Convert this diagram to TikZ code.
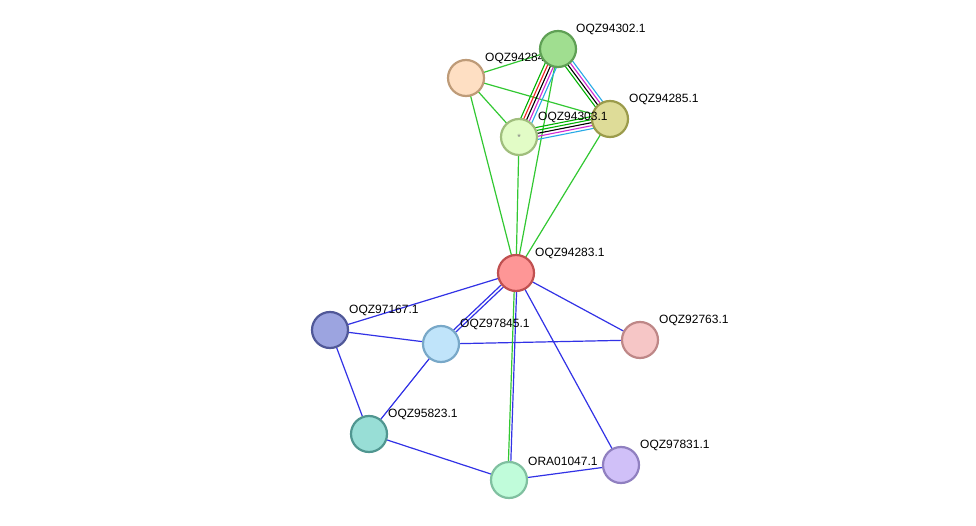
\documentclass[tikz,border=0pt]{standalone}
\usepackage{fontspec}
\setmainfont{Liberation Sans}
\usetikzlibrary{calc}
\begin{document}
\begin{tikzpicture}[x=1pt,y=-1pt,
  prot/.style={circle,minimum size=36pt,inner sep=0pt,line width=2.2pt},
  lab/.style={font=\fontsize{12}{14}\selectfont,anchor=south west,inner sep=1pt},
  ge/.style={draw={rgb,255:red,50;green,200;blue,50},line width=1.2pt},
  be/.style={draw={rgb,255:red,50;green,50;blue,230},line width=1.2pt}]
\useasboundingbox[fill=white] (0,0) rectangle (976,526);
\coordinate (A) at (466,78);
\coordinate (B) at (558,49);
\coordinate (C) at (610,119);
\coordinate (D) at (519,137);
\coordinate (E) at (516,273);
\coordinate (F) at (330,330);
\coordinate (G) at (441,344);
\coordinate (H) at (640,340);
\coordinate (I) at (369,434);
\coordinate (J) at (509,480);
\coordinate (K) at (621,465);
% green single edges
\foreach \a/\b in {A/B,A/D,A/C,A/E,B/E,D/E,C/E}{\draw[ge] (\a)--(\b);}
% multi edges
\def\multi#1#2#3{\foreach \o/\c in {#3}{\draw[line width=1.1pt,draw=\c] ($(#1)!\o pt!90:(#2)$)--($(#2)!\o pt!-90:(#1)$);}}
\colorlet{sg}{green!70!black}
\definecolor{sr}{RGB}{240,30,30}
\definecolor{sm}{RGB}{210,40,210}
\definecolor{sb}{RGB}{40,170,230}
\multi{B}{D}{-6/sg,-3/sr,0/black,3/sm,6/sb}
\multi{B}{C}{-4.5/sg,-1.5/black,1.5/sm,4.5/sb}
\multi{D}{C}{-6/sb,-3/sm,0/black,3/sg,6/sg}
% blue edges
\foreach \a/\b in {E/F,E/H,E/K,F/G,G/H,F/I,G/I,I/J,J/K}{\draw[be] (\a)--(\b);}
\draw[be] ($(E)!1.5pt!90:(G)$)--($(G)!1.5pt!-90:(E)$);
\draw[be] ($(E)!-1.5pt!90:(G)$)--($(G)!-1.5pt!-90:(E)$);
\draw[be] ($(E)!1.2pt!90:(J)$)--($(J)!1.2pt!-90:(E)$);
\draw[ge] ($(E)!-1.2pt!90:(J)$)--($(J)!-1.2pt!-90:(E)$);
% nodes
\node[prot,fill={rgb,255:red,254;green,223;blue,195},draw={rgb,255:red,190;green,155;blue,120}] (nA) at (A) {};
\node[lab] at (484,65) {OQZ94284.1};
\node[prot,fill={rgb,255:red,222;green,220;blue,152},draw={rgb,255:red,155;green,155;blue,75}] (nC) at (C) {};
\node[lab] at (628,106) {OQZ94285.1};
\node[prot,fill={rgb,255:red,226;green,252;blue,198},draw={rgb,255:red,160;green,190;blue,125}] (nD) at (D) {};
\node[text=gray,font=\fontsize{9}{9}\selectfont] at (D) {*};
\node[lab] at (537,124) {OQZ94303.1};
\node[prot,fill={rgb,255:red,160;green,222;blue,144},draw={rgb,255:red,95;green,160;blue,85}] (nB) at (B) {};
\node[lab] at (575,36) {OQZ94302.1};
\node[prot,fill={rgb,255:red,254;green,150;blue,150},draw={rgb,255:red,192;green,80;blue,80}] (nE) at (E) {};
\node[lab] at (534,260) {OQZ94283.1};
\node[prot,fill={rgb,255:red,156;green,164;blue,224},draw={rgb,255:red,80;green,88;blue,152}] (nF) at (F) {};
\node[lab] at (348,317) {OQZ97167.1};
\node[prot,fill={rgb,255:red,192;green,228;blue,250},draw={rgb,255:red,120;green,168;blue,200}] (nG) at (G) {};
\node[lab] at (459,331) {OQZ97845.1};
\node[prot,fill={rgb,255:red,246;green,198;blue,198},draw={rgb,255:red,190;green,135;blue,135}] (nH) at (H) {};
\node[lab] at (658,327) {OQZ92763.1};
\node[prot,fill={rgb,255:red,152;green,222;blue,214},draw={rgb,255:red,80;green,150;blue,144}] (nI) at (I) {};
\node[lab] at (387,421) {OQZ95823.1};
\node[prot,fill={rgb,255:red,192;green,252;blue,218},draw={rgb,255:red,128;green,192;blue,160}] (nJ) at (J) {};
\node[lab] at (527,467) {ORA01047.1};
\node[prot,fill={rgb,255:red,208;green,192;blue,248},draw={rgb,255:red,144;green,128;blue,192}] (nK) at (K) {};
\node[lab] at (639,452) {OQZ97831.1};
\end{tikzpicture}
\end{document}
